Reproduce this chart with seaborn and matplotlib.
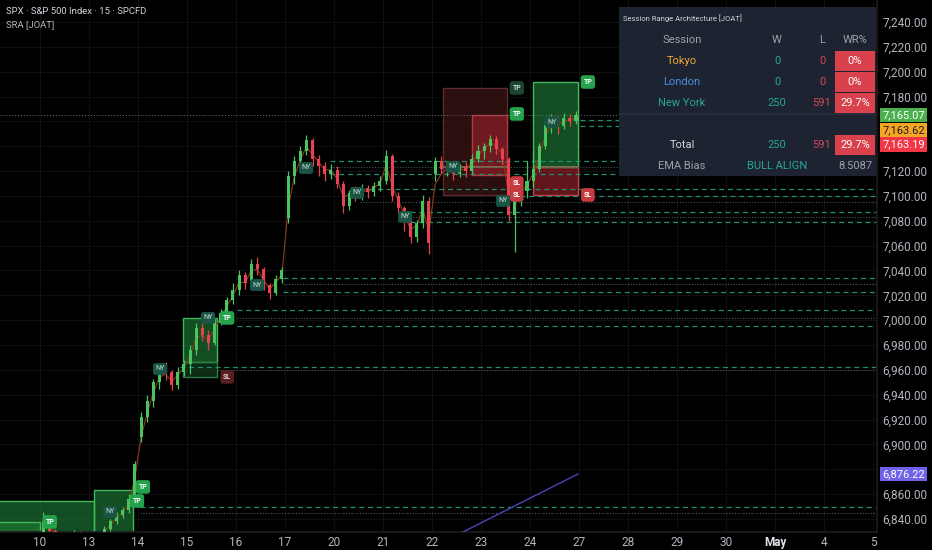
import numpy as np
import pandas as pd
import seaborn as sns
import matplotlib.pyplot as plt
import matplotlib.transforms as mtransforms
from matplotlib.patches import Rectangle

# ---- values ----
day_labels = ["10", "13", "14", "15", "16", "17", "20", "21", "22", "23", "24",
              "27", "28", "29", "30", "May", "4", "5"]
bars_per_day = 8

day_opens = [6826, 6828, 6906, 6965, 7024, 7082, 7121, 7112, 7118, 7136, 7112]

closes = [
    6838, 6830, 6826, 6822, 6825, 6828, 6824, 6826,   # Apr 10
    6824, 6827, 6832, 6838, 6843, 6847, 6856, 6884,   # Apr 13
    6922, 6935, 6950, 6960, 6958, 6948, 6958, 6965,   # Apr 14
    6976, 6994, 6988, 6982, 6998, 7006, 7016, 7024,   # Apr 15
    7036, 7030, 7045, 7041, 7028, 7022, 7033, 7040,   # Apr 16
    7116, 7128, 7136, 7145, 7130, 7124, 7118, 7121,   # Apr 17
    7110, 7092, 7102, 7100, 7106, 7103, 7108, 7112,   # Apr 20
    7132, 7100, 7090, 7079, 7067, 7078, 7096, 7062,   # Apr 21
    7128, 7122, 7125, 7118, 7123, 7120, 7130, 7136,   # Apr 22
    7140, 7146, 7138, 7130, 7085, 7098, 7104, 7112,   # Apr 23
    7122, 7140, 7157, 7161, 7156, 7163, 7160, 7165.07,  # Apr 24
]
highs = [
    6846, 6840, 6832, 6828, 6829, 6831, 6830, 6829,
    6830, 6829, 6834, 6840, 6846, 6850, 6860, 6887,
    6926, 6940, 6953, 6964, 6966, 6960, 6962, 6968,
    6980, 6998, 7000, 6992, 7001, 7009, 7019, 7030,
    7040, 7039, 7049, 7051, 7043, 7030, 7036, 7043,
    7120, 7132, 7140, 7149, 7147, 7133, 7127, 7126,
    7124, 7112, 7105, 7108, 7110, 7109, 7111, 7116,
    7137, 7134, 7103, 7092, 7082, 7081, 7101, 7099,
    7131, 7132, 7128, 7127, 7126, 7127, 7134, 7141,
    7143, 7149, 7148, 7139, 7131, 7102, 7108, 7128,
    7137, 7143, 7160, 7166, 7164, 7167, 7166, 7168,
]
lows = [
    6824, 6826, 6821, 6818, 6819, 6823, 6820, 6821,
    6818, 6821, 6825, 6830, 6836, 6841, 6845, 6855,
    6902, 6918, 6930, 6945, 6952, 6944, 6945, 6955,
    6957, 6972, 6983, 6976, 6980, 6996, 7004, 7013,
    7020, 7025, 7028, 7036, 7024, 7017, 7020, 7030,
    7078, 7110, 7124, 7133, 7124, 7116, 7112, 7114,
    7106, 7086, 7089, 7096, 7097, 7098, 7100, 7104,
    7110, 7096, 7086, 7072, 7062, 7063, 7074, 7053,
    7112, 7118, 7116, 7113, 7115, 7115, 7118, 7127,
    7130, 7135, 7134, 7126, 7080, 7055, 7092, 7098,
    7106, 7119, 7138, 7151, 7150, 7154, 7156, 7158,
]

# session levels: price, first day they start, style
level_price = [7161.1, 7156.3, 7128.1, 7123.3, 7117.7, 7105.6, 7100.0, 7095.1,
               7087.1, 7083.1, 7079.0, 7034.0, 7029.1, 7022.7, 7008.2, 7001.8,
               6995.3, 6962.3, 6959.9, 6849.7, 6844.8]
level_start = [11.02, 11.02, 5.92, 5.92, 5.92, 6.53, 9.80, 6.53,
               7.55, 7.55, 7.55, 4.96, 4.96, 4.96, 4.02, 4.02,
               4.02, 2.86, 3.61, 2.04, 2.04]
level_style = ["dash", "dash", "dash", "dot", "dash", "dash", "dash", "dot",
               "dash", "dot", "dash", "dash", "dot", "dash", "dash", "dot",
               "dash", "dash", "dot", "dash", "dot"]

# trade boxes
box_x0 = [-0.95, -0.95, 1.10, 2.92, 2.92, 8.22, 8.82, 10.06, 10.06]
box_x1 = [1.10, 0.00, 1.90, 3.61, 3.61, 9.53, 9.53, 10.98, 10.98]
box_lo = [6800, 6800, 6800, 6966.4, 6954.3, 7100.8, 7116.9, 7123.3, 7100.8]
box_hi = [6854.5, 6837.6, 6863.3, 7001.8, 6966.4, 7186.9, 7165.1, 7191.7, 7123.3]
box_kind = ["win", "win", "win", "win", "win_sl", "loss_wide", "loss", "win", "sl"]

entry_x0 = [8.22, 10.06]
entry_x1 = [9.53, 10.98]
entry_price = [7123.3, 7123.3]

ny_day = [1.43, 2.45, 3.43, 4.43, 5.43, 6.47, 7.45, 8.43, 9.45, 10.45]
ny_price = [6845.6, 6960.7, 7001.8, 7028.3, 7122.5, 7102.4, 7083.1, 7123.3, 7096.0, 7159.5]

tp_day = [0.20, 1.98, 2.10, 3.82, 9.73, 9.73, 11.18]
tp_price = [6837.6, 6854.5, 6865.8, 7001.8, 7186.9, 7166.0, 7191.7]
tp_dim = [False, False, False, False, True, False, False]

sl_day = [3.82, 9.73, 9.73, 11.18]
sl_price = [6954.3, 7110.4, 7100.8, 7100.8]
sl_dim = [True, False, False, False]

proj_day = [8.5, 10.98]
proj_price = [6826.9, 6876.22]

tag_values = [7165.07, 7163.62, 7163.19, 6876.22]
tag_colors = ["#4caf50", "#f5a623", "#f23645", "#6f62e8"]
tag_text = ["white", "#1a1a1a", "white", "white"]
tag_shift = [0, 9.5, 19.5, 0]   # points, stacked to avoid overlap
hidden_ticks = [7160, 7140, 6880]  # covered by the price tags

sessions = ["Tokyo", "London", "New York"]
session_colors = ["#f0a832", "#4a8fe0", "#26a69a"]
wins = [0, 0, 250]
losses = [0, 0, 591]
win_rates = ["0%", "0%", "29.7%"]
total_w, total_l, total_wr = 250, 591, "29.7%"
ema_bias, ema_gap = "BULL ALIGN", "8.5087"

# ---- styling ----
sns.set_theme(style="dark", rc={"axes.facecolor": "black", "figure.facecolor": "black"})
plt.rcParams["font.family"] = ["Roboto", "DejaVu Sans"]

UP, DN = "#4cc35c", "#e8414f"
GRID = "#101010"

fig = plt.figure(figsize=(9.32, 5.5), dpi=100)
ax = fig.add_axes([0, 18 / 550, 877 / 932, 532 / 550])
ax.set_facecolor("black")
ax.set_xlim(-0.816, 17.08)
ax.set_ylim(6829.5, 7257.7)

ticks_y = np.arange(6840, 7241, 20)
for t in range(len(day_labels)):
    ax.axvline(t, color=GRID, lw=0.7, zorder=0)
for v in ticks_y:
    ax.axhline(v, color=GRID, lw=0.7, zorder=0)

# candles
n = len(closes)
idx = np.arange(n)
day = idx // bars_per_day
k = idx % bars_per_day
xs = day + (k + 0.5) / bars_per_day
opens = [day_opens[day[i]] if k[i] == 0 else closes[i - 1] for i in range(n)]
df = pd.DataFrame({"x": xs, "open": opens, "high": highs, "low": lows, "close": closes})
cols = np.where(df["close"] >= df["open"], UP, DN)

# boxes
box_style = {
    "win": dict(fc="#1f7d38", alpha=0.62, ec="#3fb95c"),
    "win_sl": dict(fc="#0f3a1d", alpha=0.75, ec="#2d7a44"),
    "loss_wide": dict(fc="#3a1414", alpha=0.75, ec="#5c2c2c"),
    "loss": dict(fc="#8c2029", alpha=0.7, ec="#b2383f"),
    "sl": dict(fc="#8c2029", alpha=0.7, ec="#c24046"),
}
for x0, x1, lo, hi, kind in zip(box_x0, box_x1, box_lo, box_hi, box_kind):
    s = box_style[kind]
    ax.add_patch(Rectangle((x0, lo), x1 - x0, hi - lo, facecolor=s["fc"], alpha=s["alpha"],
                           edgecolor="none", zorder=1))
    ax.add_patch(Rectangle((x0, lo), x1 - x0, hi - lo, facecolor="none",
                           edgecolor=s["ec"], lw=1.0, zorder=1.5))
ax.hlines(entry_price, entry_x0, entry_x1, color="#8c7655", lw=1.2, zorder=2)

# session levels
for p, x0, st in zip(level_price, level_start, level_style):
    if st == "dash":
        ax.hlines(p, x0, 17.2, color="#1f8f72", lw=0.9, linestyles=(0, (4, 3)), zorder=2)
    else:
        ax.hlines(p, x0, 17.2, color="#46564f", lw=0.8, linestyles=(0, (1, 1.5)), zorder=2)

ax.axhline(closes[-1], color="#707070", lw=0.7, ls=(0, (1, 2)), zorder=2)

# ema + projection line
ema = df["close"].ewm(span=2, adjust=False).mean()
sns.lineplot(x=df["x"], y=ema, ax=ax, color="#8a3d20", lw=0.8, zorder=3, sort=False)
sns.lineplot(x=proj_day, y=proj_price, ax=ax, color="#4b45b8", lw=1.0, zorder=3)

ax.vlines(df["x"], df["low"], df["high"], colors=cols, lw=0.9, zorder=4)
body = (df["close"] - df["open"]).abs().clip(lower=0.8)
ax.bar(df["x"], body, bottom=np.minimum(df["open"], df["close"]), width=0.5 / bars_per_day,
       color=cols, linewidth=0, zorder=5)

# markers
for x, y in zip(ny_day, ny_price):
    ax.text(x, y, "NY", fontsize=5, color="#cfe6dd", ha="center", va="center", zorder=6,
            bbox=dict(boxstyle="round,pad=0.35", fc="#1b5445", ec="none"))
for x, y, dim in zip(tp_day, tp_price, tp_dim):
    ax.text(x, y, "TP", fontsize=5, color="white" if not dim else "#c8d8cf", ha="center",
            va="center", zorder=6, fontweight="bold",
            bbox=dict(boxstyle="round,pad=0.4", fc="#1b4431" if dim else "#25a24c", ec="none"))
for x, y, dim in zip(sl_day, sl_price, sl_dim):
    ax.text(x, y, "SL", fontsize=5, color="white" if not dim else "#e0c8c8", ha="center",
            va="center", zorder=6, fontweight="bold",
            bbox=dict(boxstyle="round,pad=0.4", fc="#5a2020" if dim else "#c63b3f", ec="none"))

# axes
for s in ["top", "left"]:
    ax.spines[s].set_visible(False)
for s in ["right", "bottom"]:
    ax.spines[s].set_color("#1c1c1c")
ax.yaxis.tick_right()
ax.set_yticks(ticks_y)
ax.set_yticklabels(["" if v in hidden_ticks else f"{v:,.2f}" for v in ticks_y])
ax.set_xticks(range(len(day_labels)))
ax.set_xticklabels(day_labels)
ax.tick_params(axis="y", length=0, pad=4, labelsize=8.5, labelcolor="#b2b5be")
ax.tick_params(axis="x", length=0, pad=3, labelsize=8.5, labelcolor="#b2b5be")
for lab in ax.get_xticklabels():
    if lab.get_text() == "May":
        lab.set_fontweight("bold")
        lab.set_color("#e0e3eb")
ax.set_xlabel("")
ax.set_ylabel("")

trans = mtransforms.blended_transform_factory(ax.transAxes, ax.transData)
for v, c, tc, sh in zip(tag_values, tag_colors, tag_text, tag_shift):
    ax.annotate(f"{v:,.2f}", xy=(1.0, v), xycoords=trans, xytext=(4, -sh),
                textcoords="offset points", fontsize=8, color=tc, ha="left", va="center",
                annotation_clip=False, zorder=10,
                bbox=dict(boxstyle="square,pad=0.2", fc=c, ec="none"))

fig.text(6 / 932, 1 - 12 / 550, "SPX · S&P 500 Index · 15 · SPCFD", fontsize=6.8,
         color="#d1d4dc", ha="left", va="center")
fig.text(6 / 932, 1 - 25 / 550, "SRA [JOAT]", fontsize=6.8, color="#b2b5be",
         ha="left", va="center")

# stats table
tb = fig.add_axes([619 / 932, 1 - 176 / 550, 257 / 932, 169 / 550])
tb.set_facecolor("#1d2331")
tb.set_xlim(619, 876)
tb.set_ylim(176, 7)
tb.set_xticks([])
tb.set_yticks([])
for s in tb.spines.values():
    s.set_visible(False)
tb.text(623, 18, "Session Range Architecture [JOAT]", fontsize=5.5, color="#d1d4dc",
        ha="left", va="center")
for label, xx in zip(["Session", "W", "L", "WR%"], [682, 777, 822, 855]):
    tb.text(xx, 40, label, fontsize=8, color="#9da1ab", ha="center", va="center")
row_y = [61, 82, 103]
for yy, name, sc, w, l, wr in zip(row_y, sessions, session_colors, wins, losses, win_rates):
    tb.add_patch(Rectangle((835, yy - 10), 40, 20, fc="#d9424d", ec="none"))
    tb.text(682, yy, name, fontsize=8, color=sc, ha="center", va="center")
    tb.text(777, yy, str(w), fontsize=8, color="#26a69a", ha="center", va="center")
    tb.text(822, yy, str(l), fontsize=8, color="#d2495a", ha="center", va="center")
    tb.text(855, yy, wr, fontsize=8, color="white", ha="center", va="center")
tb.add_patch(Rectangle((619, 113), 257, 2, fc="#262d3c", ec="none"))
tb.add_patch(Rectangle((835, 135), 40, 20, fc="#d9424d", ec="none"))
tb.text(682, 145, "Total", fontsize=8, color="#d1d4dc", ha="center", va="center")
tb.text(777, 145, str(total_w), fontsize=8, color="#26a69a", ha="center", va="center")
tb.text(822, 145, str(total_l), fontsize=8, color="#d2495a", ha="center", va="center")
tb.text(855, 145, total_wr, fontsize=8, color="white", ha="center", va="center")
tb.text(682, 166, "EMA Bias", fontsize=8, color="#9da1ab", ha="center", va="center")
tb.text(777, 166, ema_bias, fontsize=8, color="#26a69a", ha="center", va="center")
tb.text(855, 166, ema_gap, fontsize=8, color="#9da1ab", ha="center", va="center")

fig.savefig("out.png", dpi=100, facecolor="black")
